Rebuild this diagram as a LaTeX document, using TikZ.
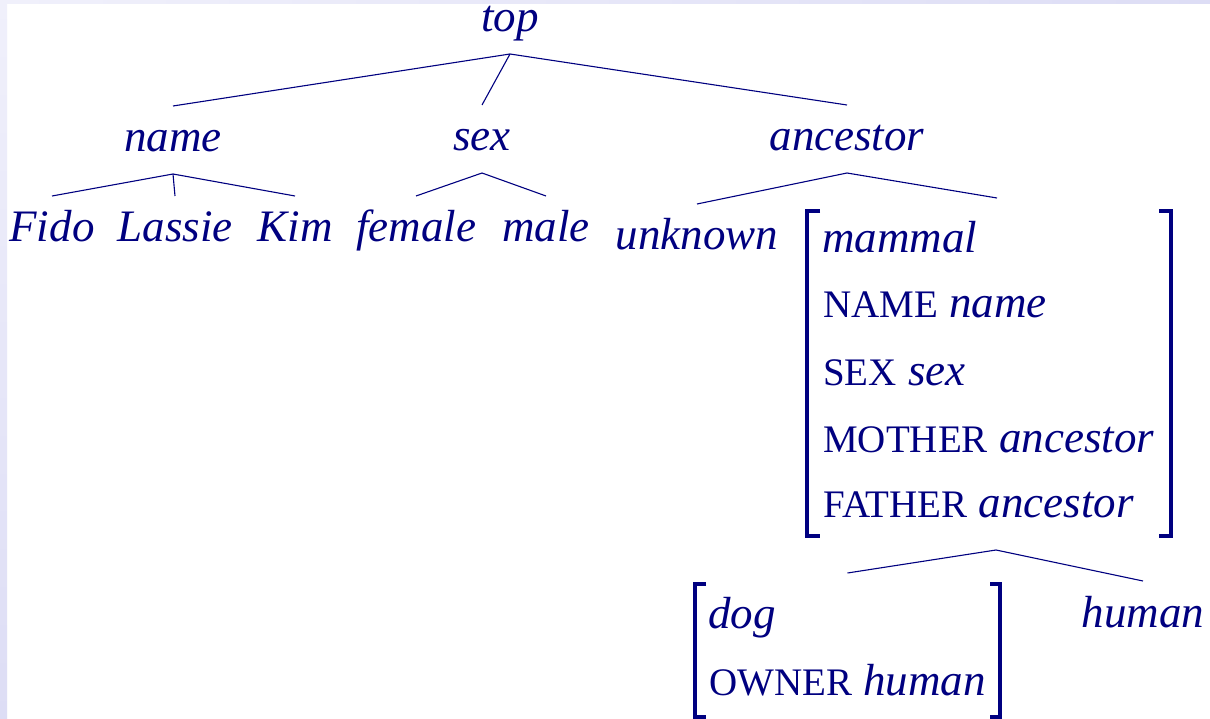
\documentclass[tikz,border=0pt]{standalone}
\usepackage{fontspec}
\setmainfont{Liberation Serif}
\definecolor{navy}{RGB}{0,0,128}
\definecolor{edgeA}{RGB}{240,240,251}
\definecolor{edgeB}{RGB}{221,221,245}
\newcommand\featname[1]{{\fontsize{39pt}{54pt}\selectfont #1}}
\tikzset{
  lbl/.style={inner sep=0pt, outer sep=0pt, anchor=base, text=navy,
    text height=46pt, text depth=22pt,
    font=\fontsize{45pt}{54pt}\selectfont\itshape},
  rowtxt/.style={inner sep=0pt, anchor=base west, text=navy,
    font=\fontsize{45pt}{54pt}\selectfont},
  boxarea/.style={inner sep=0pt, outer sep=0pt, anchor=north west},
  tl/.style={line width=1.1pt, draw=navy},
  brk/.style={line width=4pt, draw=navy, line join=miter, line cap=butt},
}
\begin{document}
\begin{tikzpicture}[x=1pt, y=-1pt]
\useasboundingbox (0,0) rectangle (1210,719);
% page background with its tinted margins
\fill[white] (0,0) rectangle (1210,719);
\shade[top color=edgeA, bottom color=edgeB] (0,0) rectangle (7,719);
\shade[left color=edgeA, right color=edgeB] (7,0) rectangle (1210,4);

% type hierarchy labels
\node[lbl] (top) at (510,32) {top};
\node[lbl] (name) at (173,152) {name};
\node[lbl] (sex) at (482,151) {sex};
\node[lbl] (ancestor) at (847,151) {ancestor};
\node[lbl] (Fido) at (52,242) {Fido};
\node[lbl] (Lassie) at (175,242) {Lassie};
\node[lbl] (Kim) at (295,242) {Kim};
\node[lbl] (female) at (416,242) {female};
\node[lbl] (male) at (546,242) {male};
\node[lbl] (unknown) at (697,250) {unknown};
\node[lbl] (human) at (1143,627) {human};

% feature structure for mammal
\node[boxarea, minimum width=364pt, minimum height=325pt] (mam) at (807,211) {};
\draw[brk] ([xshift=13pt]mam.north west) -- (mam.north west) -- (mam.south west) -- ([xshift=13pt]mam.south west);
\draw[brk] ([xshift=-12pt]mam.north east) -- (mam.north east) -- (mam.south east) -- ([xshift=-12pt]mam.south east);
\node[rowtxt] (mamtype) at (822,253) {\textit{mammal}};
\node[rowtxt] (mamname) at (823,318) {\featname{NAME} \textit{name}};
\node[rowtxt] (mamsex) at (823,385) {\featname{SEX} \textit{sex}};
\node[rowtxt] (mammother) at (823,452) {\featname{MOTHER} \textit{ancestor}};
\node[rowtxt] (mamfather) at (823,517) {\featname{FATHER} \textit{ancestor}};

% feature structure for dog
\node[boxarea, minimum width=305pt, minimum height=133pt] (dog) at (695,584) {};
\draw[brk] ([xshift=11pt]dog.north west) -- (dog.north west) -- (dog.south west) -- ([xshift=11pt]dog.south west);
\draw[brk] ([xshift=-10pt]dog.north east) -- (dog.north east) -- (dog.south east) -- ([xshift=-10pt]dog.south east);
\node[rowtxt] (dogtype) at (708,628) {\textit{dog}};
\node[rowtxt] (dogowner) at (709,695) {\featname{OWNER} \textit{human}};

% subtype links
\draw[tl] (top.south) -- (name.north);
\draw[tl] (top.south) -- (sex.north);
\draw[tl] (top.south) -- (ancestor.north);
\draw[tl] (name.south) -- (Fido.north);
\draw[tl] (name.south) -- (Lassie.north);
\draw[tl] (name.south) -- (Kim.north);
\draw[tl] (sex.south) -- (female.north);
\draw[tl] (sex.south) -- (male.north);
\draw[tl] (ancestor.south) -- (unknown.north);
\draw[tl] (ancestor.south) -- ([xshift=8pt,yshift=13pt]mam.north);
\draw[tl] ([xshift=7pt,yshift=-14pt]mam.south) -- ([yshift=11pt]dog.north);
\draw[tl] ([xshift=7pt,yshift=-14pt]mam.south) -- (human.north);
\end{tikzpicture}
\end{document}
